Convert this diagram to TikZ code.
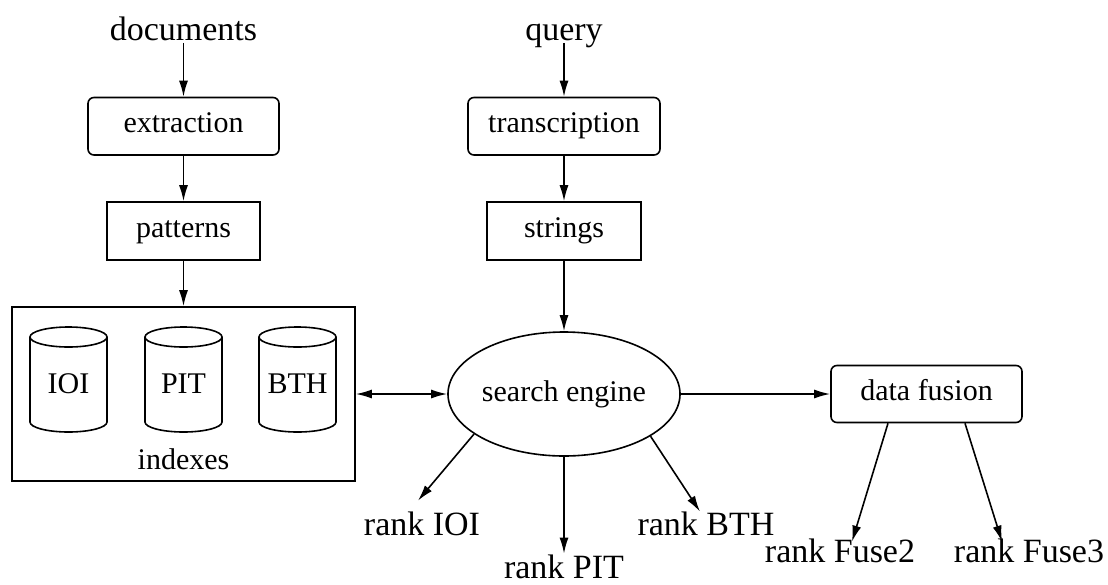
\documentclass[tikz,border=0pt]{standalone}
\usepackage{fontspec}
\setmainfont{Liberation Serif}
\usetikzlibrary{arrows.meta,shapes.geometric}

\newcommand\boxfont{\fontsize{15}{18}\selectfont}
\newcommand\labfont{\fontsize{17}{20}\selectfont}

\tikzset{
  every path/.style={line width=0.8pt},
  box/.style={draw, rectangle, inner sep=0pt, font=\boxfont,
              text height=0.68em, text depth=0.04em},
  rbox/.style={box, rounded corners=3pt},
  lab/.style={inner sep=0pt, font=\labfont, anchor=base,
              text height=0.68em, text depth=0.1em},
  arr/.style={-{Latex[length=8pt,width=4.5pt]}},
  darr/.style={{Latex[length=8pt,width=4.5pt]}-{Latex[length=8pt,width=4.5pt]}},
}

\begin{document}
\begin{tikzpicture}[x=0.5pt,y=-0.5pt]
\useasboundingbox (0,0) rectangle (1108,584);

% inputs
\node[lab] (docs) at (183.5,40) {documents};
\node[lab] (query) at (564,40) {query};

% document branch
\node[rbox, minimum width=95.5pt, minimum height=28.75pt] (extr) at (183.5,126.25) {extraction};
\node[box, minimum width=76.5pt, minimum height=29pt] (pat) at (183.5,231) {patterns};

% query branch
\node[rbox, minimum width=96pt, minimum height=28.75pt] (trans) at (564,126.25) {transcription};
\node[box, minimum width=77pt, minimum height=29pt] (str) at (564,231) {strings};

% index container with three databases
\node[draw, rectangle, inner sep=0pt, minimum width=171.5pt, minimum height=87pt] (idx) at (183.5,394) {};
\foreach \cx/\nm/\t in {68.5/ioi/IOI, 183.5/pit/PIT, 297.5/bth/BTH}{
  \draw (\cx,337) ellipse [x radius=19.25pt, y radius=5pt];
  \draw (\cx-38.5,337) -- (\cx-38.5,422)
        arc [start angle=180, end angle=360, x radius=19.25pt, y radius=5pt]
        -- (\cx+38.5,337);
  \node[inner sep=0pt, font=\boxfont, anchor=base] (\nm) at (\cx,393) {\t};
}
\node[inner sep=0pt, font=\boxfont, anchor=base] (idxlab) at (183.5,469) {indexes};

% search engine and fusion
\node[draw, ellipse, inner sep=0pt, font=\boxfont, minimum width=114.5pt, minimum height=62pt] (se) at (564,394) {search engine};
\node[rbox, minimum width=95.5pt, minimum height=28.5pt] (df) at (926.5,394) {data fusion};

% result lists
\node[lab] (rioi) at (422,535) {rank IOI};
\node[lab] (rpit) at (564,578) {rank PIT};
\node[lab] (rbth) at (706,535) {rank BTH};
\node[lab] (rf2) at (840,562) {rank Fuse2};
\node[lab] (rf3) at (1029,562) {rank Fuse3};

% connectors
\draw[arr] (docs) -- (extr);
\draw[arr] (extr) -- (pat);
\draw[arr] (pat) -- (idx);
\draw[arr] (query) -- (trans);
\draw[arr] (trans) -- (str);
\draw[arr] (str) -- (se);
\draw[darr] (idx.east) -- (se.west);
\draw[arr] (se.east) -- (df.west);
\draw[arr] (se.204) -- ([shift={(-4,-20)}]rioi.north);
\draw[arr] (se.south) -- ([shift={(0,-10)}]rpit.north);
\draw[arr] (se.334.6) -- ([shift={(-6,-9)}]rbth.north);
\draw[arr] ([xshift=-19.25pt]df.south) -- ([shift={(12,-6)}]rf2.north);
\draw[arr] ([xshift=19.25pt]df.south) -- ([shift={(-27,-6)}]rf3.north);
\end{tikzpicture}
\end{document}
